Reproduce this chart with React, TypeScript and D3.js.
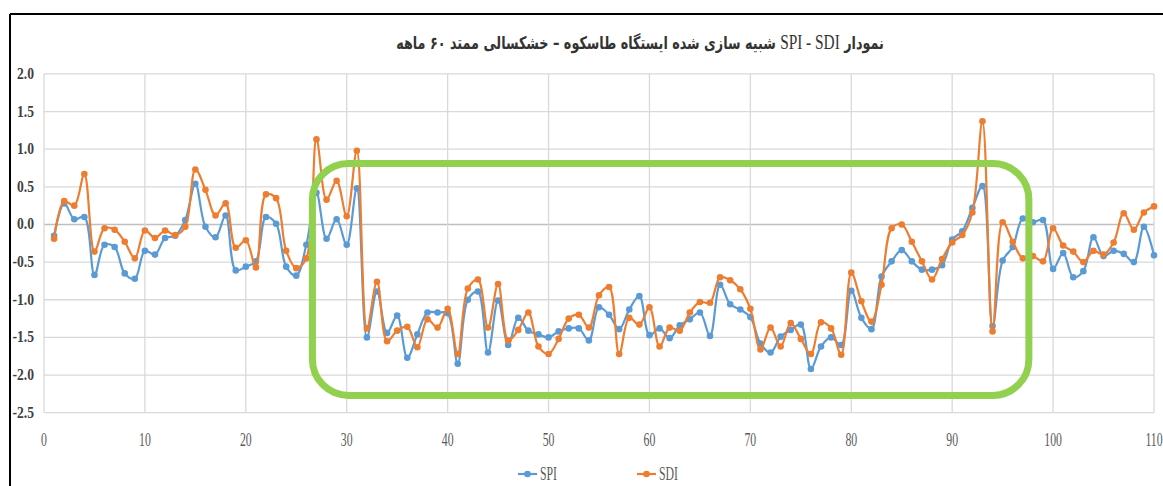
import React, { useEffect, useRef } from "react";
import * as d3 from "d3";

// values, months 1..110
const spi = [
  -0.15, 0.28, 0.07, 0.1, -0.67, -0.27, -0.3, -0.65, -0.72, -0.35,
  -0.4, -0.18, -0.15, 0.06, 0.54, -0.03, -0.17, 0.12, -0.61, -0.56,
  -0.49, 0.1, 0.01, -0.56, -0.68, -0.27, 0.42, -0.19, 0.07, -0.27,
  0.48, -1.5, -0.89, -1.44, -1.21, -1.77, -1.46, -1.17, -1.17, -1.18,
  -1.85, -1.0, -0.89, -1.7, -1.01, -1.6, -1.24, -1.41, -1.46, -1.5,
  -1.42, -1.38, -1.38, -1.54, -1.1, -1.2, -1.39, -1.13, -0.95, -1.47,
  -1.38, -1.51, -1.34, -1.26, -1.17, -1.48, -0.8, -1.06, -1.13, -1.23,
  -1.58, -1.7, -1.49, -1.4, -1.33, -1.92, -1.62, -1.5, -1.6, -0.88,
  -1.24, -1.39, -0.69, -0.49, -0.34, -0.49, -0.6, -0.6, -0.54, -0.2,
  -0.09, 0.22, 0.51, -1.35, -0.48, -0.3, 0.08, 0.03, 0.06, -0.59,
  -0.38, -0.7, -0.62, -0.17, -0.42, -0.35, -0.39, -0.5, -0.03, -0.41,
];

const sdi = [
  -0.19, 0.31, 0.25, 0.67, -0.36, -0.05, -0.07, -0.23, -0.45, -0.08,
  -0.18, -0.08, -0.14, -0.03, 0.73, 0.46, 0.12, 0.28, -0.31, -0.21,
  -0.57, 0.4, 0.35, -0.35, -0.58, -0.45, 1.13, 0.33, 0.58, 0.11,
  0.98, -1.38, -0.76, -1.55, -1.41, -1.36, -1.63, -1.26, -1.37, -1.12,
  -1.72, -0.85, -0.73, -1.37, -0.79, -1.54, -1.4, -1.17, -1.62, -1.72,
  -1.52, -1.25, -1.2, -1.37, -0.94, -0.83, -1.72, -1.24, -1.33, -1.1,
  -1.62, -1.37, -1.41, -1.17, -1.03, -1.04, -0.7, -0.74, -0.86, -1.12,
  -1.66, -1.37, -1.62, -1.31, -1.52, -1.72, -1.3, -1.38, -1.73, -0.64,
  -1.02, -1.29, -0.8, -0.05, 0.0, -0.23, -0.49, -0.73, -0.46, -0.24,
  -0.14, 0.16, 1.37, -1.42, 0.03, -0.23, -0.45, -0.42, -0.49, -0.05,
  -0.28, -0.36, -0.5, -0.35, -0.4, -0.24, 0.15, -0.07, 0.16, 0.24,
];

const xTicks = [0, 10, 20, 30, 40, 50, 60, 70, 80, 90, 100, 110];
const yTicks = [2.0, 1.5, 1.0, 0.5, 0.0, -0.5, -1.0, -1.5, -2.0, -2.5];

const seriesNames = ["SPI", "SDI"];
const seriesColors = ["#5b9bd5", "#ed7d31"];

export default function App() {
  const ref = useRef<SVGSVGElement>(null);

  useEffect(() => {
    const w = 1163;
    const h = 486;
    const svg = d3.select(ref.current);
    svg.selectAll("*").remove();

    const x = d3.scaleLinear().domain([0, 110]).range([44, 1154]);
    const y = d3.scaleLinear().domain([-2.5, 2.0]).range([412.7, 73.9]);

    svg.append("rect").attr("width", w).attr("height", h).attr("fill", "#fff");

    // frame edges
    svg.append("line").attr("x1", 10).attr("x2", 10).attr("y1", 14).attr("y2", h)
      .attr("stroke", "#000").attr("stroke-width", 2);
    svg.append("line").attr("x1", 10).attr("x2", w).attr("y1", 14).attr("y2", 14)
      .attr("stroke", "#000").attr("stroke-width", 2);

    // title (condensed like the original)
    const title = svg.append("text")
      .attr("transform", "translate(640,49) scale(0.73,1)")
      .attr("text-anchor", "middle")
      .attr("direction", "rtl")
      .attr("font-family", "DejaVu Sans")
      .attr("font-weight", "bold")
      .attr("font-size", 17.5)
      .attr("fill", "#333");
    title.append("tspan").text("نمودار ");
    title.append("tspan").attr("font-family", "Liberation Serif").attr("font-weight", "normal")
      .attr("font-size", 21).text("SPI - SDI");
    title.append("tspan").text(" شبیه سازی شده ایستگاه طاسکوه – خشکسالی ممتد ۶۰ ماهه");

    // grid
    svg.append("g").selectAll("line").data(yTicks).enter().append("line")
      .attr("x1", x(0)).attr("x2", x(110))
      .attr("y1", d => y(d)).attr("y2", d => y(d))
      .attr("stroke", d => (d === 0 ? "#bfbfbf" : "#d9d9d9"))
      .attr("stroke-width", 1.3);
    svg.append("g").selectAll("line").data(xTicks).enter().append("line")
      .attr("x1", d => x(d)).attr("x2", d => x(d))
      .attr("y1", y(2.0)).attr("y2", y(-2.5))
      .attr("stroke", "#d9d9d9")
      .attr("stroke-width", 1.3);

    // tick labels
    svg.append("g").selectAll("text").data(yTicks).enter().append("text")
      .attr("transform", d => `translate(34,${y(d) + 5}) scale(0.85,1)`)
      .attr("text-anchor", "end")
      .attr("font-family", "Liberation Serif")
      .attr("font-weight", "bold")
      .attr("font-size", 16)
      .attr("fill", "#404040")
      .text(d => d.toFixed(1));
    svg.append("g").selectAll("text").data(xTicks).enter().append("text")
      .attr("transform", d => `translate(${x(d)},446) scale(0.62,1)`)
      .attr("text-anchor", "middle")
      .attr("font-family", "Liberation Serif")
      .attr("font-size", 19)
      .attr("fill", "#595959")
      .text(d => d);

    // series
    const line = d3.line<number>()
      .x((d, i) => x(i + 1))
      .y(d => y(d))
      .curve(d3.curveCatmullRom.alpha(0.5));

    [spi, sdi].forEach((vals, k) => {
      const g = svg.append("g");
      g.append("path").datum(vals)
        .attr("d", line)
        .attr("fill", "none")
        .attr("stroke", seriesColors[k])
        .attr("stroke-width", 2.2);
      g.selectAll("circle").data(vals).enter().append("circle")
        .attr("cx", (d, i) => x(i + 1))
        .attr("cy", d => y(d))
        .attr("r", 3.3)
        .attr("fill", seriesColors[k]);
    });

    // highlighted drought period
    const bx0 = x(26.6);
    const bx1 = x(97.6);
    const by0 = y(0.81);
    const by1 = y(-2.27);
    svg.append("rect")
      .attr("x", bx0).attr("y", by0)
      .attr("width", bx1 - bx0).attr("height", by1 - by0)
      .attr("rx", 36).attr("ry", 36)
      .attr("fill", "none")
      .attr("stroke", "#92d050")
      .attr("stroke-width", 7);

    // legend
    const legend = svg.append("g");
    const legendX = [518, 637];
    seriesNames.forEach((name, k) => {
      const lx = legendX[k];
      legend.append("line").attr("x1", lx).attr("x2", lx + 19)
        .attr("y1", 474).attr("y2", 474)
        .attr("stroke", seriesColors[k]).attr("stroke-width", 2.2);
      legend.append("circle").attr("cx", lx + 9.5).attr("cy", 474).attr("r", 3.3)
        .attr("fill", seriesColors[k]);
      legend.append("text")
        .attr("transform", `translate(${lx + 22},480) scale(0.62,1)`)
        .attr("font-family", "Liberation Serif")
        .attr("font-size", 19)
        .attr("fill", "#595959")
        .text(name);
    });
  }, []);

  return (
    <svg
      ref={ref}
      width={1163}
      height={486}
      style={{ position: "absolute", left: 0, top: 0, display: "block" }}
    />
  );
}
